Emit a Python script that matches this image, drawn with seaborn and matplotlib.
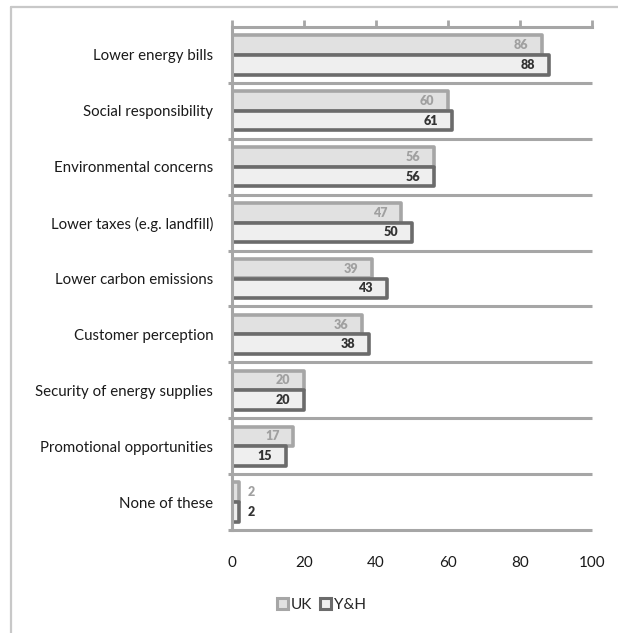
import matplotlib
matplotlib.use("Agg")
import matplotlib.pyplot as plt
import seaborn as sns
import pandas as pd
from matplotlib.patches import Patch
from matplotlib.lines import Line2D

categories = [
    "Lower energy bills",
    "Social responsibility",
    "Environmental concerns",
    "Lower taxes (e.g. landfill)",
    "Lower carbon emissions",
    "Customer perception",
    "Security of energy supplies",
    "Promotional opportunities",
    "None of these",
]
uk_values = [86, 60, 56, 47, 39, 36, 20, 17, 2]
yh_values = [88, 61, 56, 50, 43, 38, 20, 15, 2]
series_names = ["UK", "Y&H"]
x_ticks = [0, 20, 40, 60, 80, 100]

fill_colors = {"UK": "#e1e1e1", "Y&H": "#efefef"}
edge_colors = {"UK": "#a6a6a6", "Y&H": "#6b6b6b"}
text_colors = {"UK": "#a0a0a0", "Y&H": "#333333"}

df = pd.DataFrame({
    "category": categories * 2,
    "value": uk_values + yh_values,
    "series": [series_names[0]] * len(categories) + [series_names[1]] * len(categories),
})

sns.set_style("white")
plt.rcParams["font.family"] = ["Lato", "DejaVu Sans"]

fig = plt.figure(figsize=(6.18, 6.33), dpi=100)
ax = fig.add_axes([232 / 618, 1 - 530 / 633, 360 / 618, 503 / 633])

sns.barplot(
    data=df, x="value", y="category", hue="series", order=categories,
    hue_order=series_names, orient="h", width=0.7, palette=fill_colors,
    ax=ax, legend=False, saturation=1,
)

# style each series' bars with its own outline
n = len(categories)
for i, patch in enumerate(ax.patches[: 2 * n]):
    s = series_names[i // n]
    patch.set_facecolor(fill_colors[s])
    patch.set_edgecolor(edge_colors[s])
    patch.set_linewidth(2.6)
    patch.set_joinstyle("round")

# value labels
for i, patch in enumerate(ax.patches[: 2 * n]):
    s = series_names[i // n]
    v = patch.get_width()
    yc = patch.get_y() + patch.get_height() / 2
    if v >= 10:
        ax.text(v - 3.8, yc, f"{v:.0f}", ha="right", va="center",
                fontsize=9, fontweight="heavy", color=text_colors[s])
    else:
        ax.text(v + 2.3, yc, f"{v:.0f}", ha="left", va="center",
                fontsize=9, fontweight="heavy", color=text_colors[s])

ax.set_xlim(0, 100)
ax.set_ylim(n - 0.5, -0.5)
ax.set_xticks(x_ticks)
ax.set_xlabel("")
ax.set_ylabel("")

grid_c = "#a6a6a6"
# category separators
for b in range(1, n + 1):
    ax.plot([-1.2, 100], [b - 0.5, b - 0.5], color=grid_c, lw=2.2,
            clip_on=False, zorder=0.5, solid_capstyle="butt")

for side in ["right", "bottom"]:
    ax.spines[side].set_visible(False)
ax.spines["top"].set_color(grid_c)
ax.spines["top"].set_linewidth(2.2)
ax.spines["left"].set_color(grid_c)
ax.spines["left"].set_linewidth(2.2)
ax.spines["left"].set_zorder(5)

ax.tick_params(axis="x", top=True, bottom=False, labeltop=False, labelbottom=True,
               direction="out", length=5, width=2, color=grid_c, pad=14,
               labelsize=11, labelcolor="#1a1a1a")
ax.tick_params(axis="y", left=False, pad=10, labelsize=10.8, labelcolor="#1a1a1a")

# legend
handles = [Patch(facecolor=fill_colors[s], edgecolor=edge_colors[s], linewidth=2.2, label=s)
           for s in series_names]
fig.legend(handles=handles, loc="center", bbox_to_anchor=(0.52, 1 - 605 / 633), ncol=2,
           frameon=False, fontsize=11, handlelength=0.7, handleheight=0.7,
           handletextpad=0.2, columnspacing=0.5)

# outer frame
fig.add_artist(Line2D([11 / 618, 11 / 618], [0, 1 - 7 / 633], transform=fig.transFigure,
                      color="#c8c8c8", lw=1.6))
fig.add_artist(Line2D([11 / 618, 1], [1 - 7 / 633, 1 - 7 / 633], transform=fig.transFigure,
                      color="#c8c8c8", lw=1.6))

fig.savefig("out.png", dpi=100)
